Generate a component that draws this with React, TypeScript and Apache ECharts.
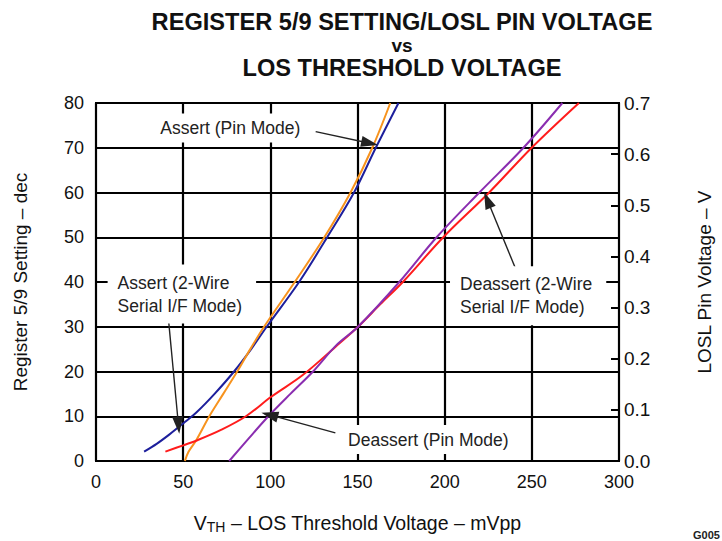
import React, { useEffect, useRef } from "react";
import * as echarts from "echarts";

// ---- data (x: VTH mVpp, y: register setting dec) ----
const xTicks = [0, 50, 100, 150, 200, 250, 300];
const leftTicks = [0, 10, 20, 30, 40, 50, 60, 70, 80];
const rightTicks = [0.0, 0.1, 0.2, 0.3, 0.4, 0.5, 0.6, 0.7];

const assertPinMode: [number, number][] = [
  [51, 0], [53, 2], [57.6, 4.7], [65, 10], [73, 15], [81, 20], [88.5, 25],
  [96.4, 30], [114, 40], [131, 50], [146, 60], [158.5, 70], [168.8, 80],
];
const assert2Wire: [number, number][] = [
  [27.6, 2.1], [35, 3.9], [42, 5.9], [50, 8.4], [58, 11], [68, 15],
  [79.2, 20], [89, 25], [97.9, 30], [116.5, 40], [132.6, 50], [148, 60],
  [160.5, 70], [173.5, 80],
];
const deassert2Wire: [number, number][] = [
  [39.8, 2.1], [50, 3.5], [58.5, 4.7], [72, 7], [86, 10], [100.7, 14.4],
  [118.6, 19.2], [137.3, 25.5], [150.3, 30], [163, 35], [176, 40],
  [199.2, 50], [225.5, 60], [249.9, 70], [277, 80],
];
const deassertPinMode: [number, number][] = [
  [76.4, 0], [87.5, 5], [98.9, 10], [111.5, 15], [124.5, 20], [137.9, 25.9],
  [150.3, 30], [174, 40], [195.4, 50], [219.9, 60], [245.2, 70], [267.5, 80],
];

// annotation anchors in data coordinates
const annotationTexts = [
  "Assert (Pin Mode)",
  "Assert (2-Wire\nSerial I/F Mode)",
  "Deassert (Pin Mode)",
  "Deassert (2-Wire\nSerial I/F Mode)",
];
const annotationAnchors: [number, number][] = [
  [36.9, 74.4], [12.4, 37.3], [144.6, 4.8], [208.8, 36.9],
];
const arrowFrom: [number, number][] = [
  [126, 73.6], [41.6, 31.5], [137.3, 6.3], [241.4, 42.3],
];
const arrowTo: [number, number][] = [
  [157, 71], [47.3, 8], [99.6, 10.3], [224.5, 58.3],
];

const FONT = "'Liberation Sans', Arial, Helvetica, sans-serif";

export default function App() {
  const ref = useRef<HTMLDivElement>(null);

  useEffect(() => {
    const chart = echarts.init(ref.current!, null, { renderer: "svg" });
    const lineSeries = (name: string, data: [number, number][], color: string) => ({
      name,
      type: "line",
      data,
      smooth: 0.35,
      showSymbol: false,
      symbol: "none",
      lineStyle: { color, width: 2 },
      itemStyle: { color },
      z: 3,
    });

    const option: any = {
      animation: false,
      backgroundColor: "#fff",
      textStyle: { fontFamily: FONT },
      title: {
        text: "{a|REGISTER 5/9 SETTING/LOSL PIN VOLTAGE}\n{b|vs}\n{a|LOS THRESHOLD VOLTAGE}",
        left: 397,
        top: 5,
        textAlign: "center",
        textStyle: {
          rich: {
            a: { fontFamily: FONT, fontSize: 23.6, fontWeight: "bold", color: "#111", lineHeight: 24 },
            b: { fontFamily: FONT, fontSize: 19, fontWeight: "bold", color: "#111", lineHeight: 22 },
          },
        },
      },
      grid: {
        left: 96,
        right: 92,
        top: 103,
        bottom: 80,
        show: true,
        borderColor: "#000",
        borderWidth: 2,
        backgroundColor: "transparent",
      },
      xAxis: {
        type: "value",
        min: xTicks[0],
        max: xTicks[xTicks.length - 1],
        interval: 50,
        name: "{v|V}{s|TH}{n| – LOS Threshold Voltage – mVpp}",
        nameLocation: "middle",
        nameGap: 51,
        nameTextStyle: {
          rich: {
            v: { fontFamily: FONT, fontSize: 19.5, color: "#111" },
            s: { fontFamily: FONT, fontSize: 14, color: "#111", verticalAlign: "bottom", padding: [8, 0, 0, 0] },
            n: { fontFamily: FONT, fontSize: 19.5, color: "#111" },
          },
        },
        axisLine: { show: true, lineStyle: { color: "#000", width: 2 } },
        axisTick: { show: true, inside: true, length: 6, lineStyle: { color: "#000", width: 2 } },
        axisLabel: { fontFamily: FONT, fontSize: 18, color: "#111", margin: 12 },
        splitLine: { show: true, lineStyle: { color: "#000", width: 2.2 } },
      },
      yAxis: [
        {
          type: "value",
          position: "left",
          min: leftTicks[0],
          max: leftTicks[leftTicks.length - 1],
          interval: 10,
          name: "Register 5/9 Setting – dec",
          nameLocation: "middle",
          nameGap: 66,
          nameRotate: 90,
          nameTextStyle: { fontFamily: FONT, fontSize: 19, color: "#111" },
          axisLine: { show: true, lineStyle: { color: "#000", width: 2 } },
          axisTick: { show: true, inside: true, length: 6, lineStyle: { color: "#000", width: 2 } },
          axisLabel: { fontFamily: FONT, fontSize: 18, color: "#111", margin: 12 },
          splitLine: { show: true, lineStyle: { color: "#000", width: 2.2 } },
        },
        {
          type: "value",
          position: "right",
          min: rightTicks[0],
          max: rightTicks[rightTicks.length - 1],
          interval: 0.1,
          name: "LOSL Pin Voltage – V",
          nameLocation: "middle",
          nameGap: 76,
          nameRotate: 90,
          nameTextStyle: { fontFamily: FONT, fontSize: 19, color: "#111" },
          axisLine: { show: true, lineStyle: { color: "#000", width: 2 } },
          axisTick: { show: true, inside: true, length: 8, lineStyle: { color: "#000", width: 2 } },
          axisLabel: {
            fontFamily: FONT,
            fontSize: 19,
            color: "#111",
            margin: 5,
            formatter: (v: number) => v.toFixed(1),
          },
          splitLine: { show: false },
        },
      ],
      series: [
        lineSeries("Assert (2-Wire Serial I/F Mode)", assert2Wire, "#1d1f9c"),
        lineSeries("Assert (Pin Mode)", assertPinMode, "#f7931e"),
        lineSeries("Deassert (2-Wire Serial I/F Mode)", deassert2Wire, "#ff1c1c"),
        lineSeries("Deassert (Pin Mode)", deassertPinMode, "#8a2db0"),
        {
          name: "arrows",
          type: "line",
          data: [],
          silent: true,
          z: 4,
          markLine: {
            silent: true,
            symbol: ["none", "triangle"],
            symbolSize: [11, 17],
            label: { show: false },
            lineStyle: { color: "#222", width: 1.4, type: "solid" },
            itemStyle: { color: "#111" },
            data: arrowFrom.map((f, i) => [{ coord: f }, { coord: arrowTo[i] }]),
          },
        },
      ],
    };

    chart.setOption(option);

    const graphics: any[] = annotationTexts.map((t, i) => {
      const p = chart.convertToPixel({ seriesIndex: 0 }, annotationAnchors[i]) as number[];
      const multi = t.indexOf("\n") >= 0;
      const pad = multi ? [7, 14, 6, 10] : [3, 6, 3, 6];
      return {
        type: "text",
        x: p[0] - pad[3],
        y: p[1],
        z: 10,
        style: {
          text: t,
          font: `17.5px ${FONT}`,
          fill: "#222",
          textAlign: "left",
          textVerticalAlign: "middle",
          lineHeight: 23,
          backgroundColor: "#fff",
          padding: pad,
        },
      };
    });
    graphics.push({
      type: "text",
      left: 693,
      top: 529,
      z: 10,
      style: { text: "G005", font: `bold 11px ${FONT}`, fill: "#222" },
    });
    chart.setOption({ graphic: graphics });

    return () => chart.dispose();
  }, []);

  return (
    <div
      ref={ref}
      style={{ position: "fixed", left: 0, top: 0, width: 722, height: 541 }}
    />
  );
}
